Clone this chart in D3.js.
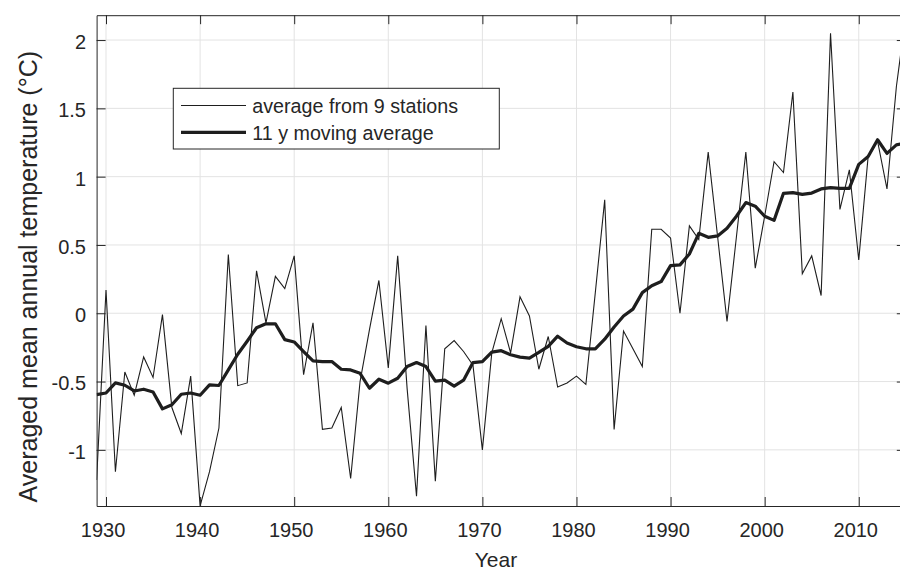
<!DOCTYPE html>
<html>
<head>
<meta charset="utf-8">
<script src="https://cdn.jsdelivr.net/npm/d3@7"></script>
<style>
  html, body { margin: 0; padding: 0; background: #fff; }
  svg { display: block; font-family: "Liberation Sans", Arial, Helvetica, sans-serif; }
</style>
</head>
<body>
<svg id="chart" width="900" height="569"></svg>
<script>
// ---- data ----
const years = d3.range(1929, 2016);
const stationAverage = [
  -1.22, 0.17, -1.16, -0.43, -0.60, -0.32, -0.47, -0.01, -0.69, -0.88,
  -0.46, -1.41, -1.16, -0.84, 0.43, -0.53, -0.51, 0.31, -0.07, 0.27,
  0.18, 0.42, -0.45, -0.07, -0.85, -0.84, -0.69, -1.21, -0.50, -0.12,
  0.24, -0.40, 0.42, -0.55, -1.34, -0.09, -1.23, -0.26, -0.20, -0.28,
  -0.38, -1.00, -0.29, -0.04, -0.29, 0.12, -0.02, -0.41, -0.17, -0.54,
  -0.51, -0.46, -0.52, 0.15, 0.83, -0.85, -0.13, -0.26, -0.39, 0.615,
  0.615, 0.55, 0.00, 0.64, 0.54, 1.18, 0.56, -0.06, 0.56, 1.18,
  0.33, 0.71, 1.11, 1.03, 1.62, 0.29, 0.42, 0.13, 2.05, 0.76,
  1.05, 0.39, 1.15, 1.26, 0.91, 1.66, 2.18
];
const movingAverage = [
  -0.596, -0.584, -0.51, -0.527, -0.569, -0.556, -0.576, -0.70, -0.67, -0.593,
  -0.584, -0.60, -0.524, -0.529, -0.415, -0.30, -0.205, -0.106, -0.077, -0.077,
  -0.193, -0.21, -0.28, -0.349, -0.354, -0.354, -0.41, -0.415, -0.44, -0.549,
  -0.483, -0.512, -0.476, -0.39, -0.361, -0.39, -0.497, -0.49, -0.534, -0.49,
  -0.361, -0.354, -0.284, -0.274, -0.304, -0.321, -0.329, -0.287, -0.242, -0.168,
  -0.218, -0.245, -0.26, -0.26, -0.19, -0.10, -0.02, 0.03, 0.151, 0.202,
  0.232, 0.349, 0.354, 0.434, 0.585, 0.556, 0.566, 0.623, 0.71, 0.81,
  0.784, 0.71, 0.68, 0.878, 0.883, 0.87, 0.88, 0.91, 0.92, 0.914,
  0.914, 1.09, 1.147, 1.27, 1.17, 1.233, 1.245
];
const xTicks = [1930, 1940, 1950, 1960, 1970, 1980, 1990, 2000, 2010];
const yTicks = [-1, -0.5, 0, 0.5, 1, 1.5, 2];
const yTickLabels = ["-1", "-0.5", "0", "0.5", "1", "1.5", "2"];
const legendLabels = ["average from 9 stations", "11 y moving average"];
const xLabel = "Year";
const yLabel = "Averaged mean annual temperature (°C)";

// ---- layout ----
const L = 96.6, R = 905.8, T = 15.2, B = 506;
const axisColor = "#262626";
const gridColor = "#e3e3e3";
const lineColor = "#1e1e1e";

const svg = d3.select("#chart");
const x = d3.scaleLinear().domain([1929, 2015]).range([L, R]);
const y = d3.scaleLinear().domain([-1.411, 2.182]).range([B, T]);

// clip
svg.append("defs").append("clipPath").attr("id", "plotclip")
  .append("rect").attr("x", L).attr("y", T).attr("width", R - L).attr("height", B - T);

// grid
const grid = svg.append("g");
grid.selectAll("line.gx").data(xTicks).join("line")
  .attr("x1", d => x(d)).attr("x2", d => x(d)).attr("y1", T).attr("y2", B)
  .attr("stroke", gridColor).attr("stroke-width", 1);
grid.selectAll("line.gy").data(yTicks).join("line")
  .attr("y1", d => y(d)).attr("y2", d => y(d)).attr("x1", L).attr("x2", R)
  .attr("stroke", gridColor).attr("stroke-width", 1);

// data lines
const pts = (vals) => years.map((yr, i) => [yr, vals[i]]);
const lineGen = d3.line().x(d => x(d[0])).y(d => y(d[1]));
const dataG = svg.append("g").attr("clip-path", "url(#plotclip)");
dataG.append("path").datum(pts(stationAverage)).attr("d", lineGen)
  .attr("fill", "none").attr("stroke", lineColor).attr("stroke-width", 1.1).attr("stroke-linejoin", "miter");
dataG.append("path").datum(pts(movingAverage)).attr("d", lineGen)
  .attr("fill", "none").attr("stroke", lineColor).attr("stroke-width", 3.2).attr("stroke-linejoin", "round");

// axes
const fs = 20;
const xAxis = d3.axisBottom(x).tickValues(xTicks).tickFormat(d3.format("d"))
  .tickSizeInner(-9).tickSizeOuter(0).tickPadding(17);
const gx = svg.append("g").attr("transform", `translate(0,${B})`).call(xAxis);
gx.selectAll("text").attr("font-size", fs).attr("fill", axisColor).attr("dx", -3.5)
  .attr("font-family", "Liberation Sans, Arial, sans-serif");

const yAxis = d3.axisLeft(y).tickValues(yTicks).tickFormat((d, i) => yTickLabels[i])
  .tickSizeInner(-9).tickSizeOuter(0).tickPadding(10.6);
const gy = svg.append("g").attr("transform", `translate(${L},0)`).call(yAxis);
gy.selectAll("text").attr("font-size", fs).attr("fill", axisColor).attr("dy", "0.42em")
  .attr("font-family", "Liberation Sans, Arial, sans-serif");

const gxTop = svg.append("g").attr("transform", `translate(0,${T})`)
  .call(d3.axisTop(x).tickValues(xTicks).tickFormat("").tickSizeInner(-9).tickSizeOuter(0));
const gyRight = svg.append("g").attr("transform", `translate(${R},0)`)
  .call(d3.axisRight(y).tickValues(yTicks).tickFormat("").tickSizeInner(-9).tickSizeOuter(0));

[gx, gy, gxTop, gyRight].forEach(g => {
  g.select(".domain").attr("stroke", axisColor).attr("stroke-width", 1);
  g.selectAll(".tick line").attr("stroke", axisColor).attr("stroke-width", 1);
});

// axis labels
svg.append("text").attr("x", 496).attr("y", 566.5).attr("text-anchor", "middle")
  .attr("font-size", 21).attr("fill", axisColor).text(xLabel);
svg.append("text").attr("transform", "translate(36.5,276.7) rotate(-90)")
  .attr("text-anchor", "middle").attr("font-size", 25).attr("fill", axisColor).text(yLabel);

// legend
const lg = svg.append("g");
lg.append("rect").attr("x", 173.3).attr("y", 88.3).attr("width", 326).attr("height", 60.7)
  .attr("fill", "#fff").attr("stroke", axisColor).attr("stroke-width", 1);
const legendRows = [
  { label: legendLabels[0], w: 1.1, yy: 105.5 },
  { label: legendLabels[1], w: 3.2, yy: 132.3 }
];
legendRows.forEach(r => {
  lg.append("line").attr("x1", 181).attr("x2", 246).attr("y1", r.yy).attr("y2", r.yy)
    .attr("stroke", lineColor).attr("stroke-width", r.w);
  lg.append("text").attr("x", 252.3).attr("y", r.yy + 7.3).attr("font-size", 19.7)
    .attr("fill", axisColor).text(r.label);
});
</script>
</body>
</html>
